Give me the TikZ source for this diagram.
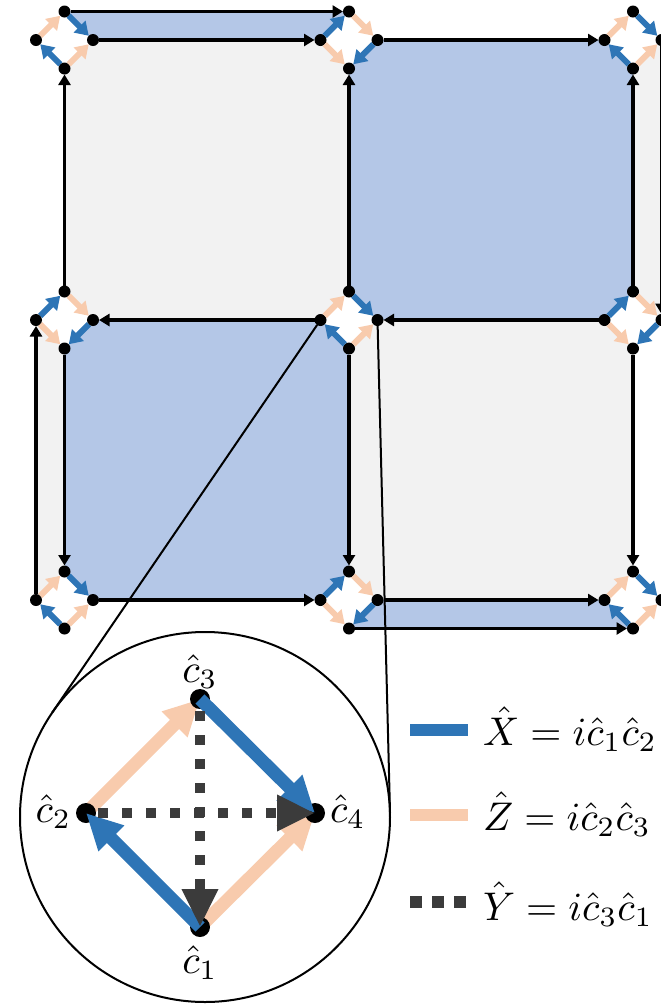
\documentclass[tikz,border=0pt]{standalone}
\usetikzlibrary{arrows.meta}
\definecolor{xblue}{HTML}{2E75B6}
\definecolor{zorange}{HTML}{F8CBAD}
\definecolor{ydark}{HTML}{3B3B3B}
\definecolor{pblue}{HTML}{B4C7E7}
\definecolor{pgray}{HTML}{F2F2F2}
\pgfdeclarelayer{bg}
\pgfsetlayers{bg,main}
\tikzset{
  dot/.style={circle,fill=black,inner sep=0pt,outer sep=0pt,minimum size=12pt},
  bigdot/.style={circle,fill=black,inner sep=0pt,outer sep=0pt,minimum size=20pt},
  bond/.style={draw=black,line width=3.2pt,-{Triangle[length=10.5pt,width=12pt]}},
  xarr/.style={draw=xblue,line width=6pt,-{Triangle[length=13pt,width=16pt]}},
  zarr/.style={draw=zorange,line width=6pt,-{Triangle[length=13pt,width=16pt]}},
  bxarr/.style={draw=xblue,line width=13pt,-{Triangle[length=36pt,width=34pt]}},
  bzarr/.style={draw=zorange,line width=13pt,-{Triangle[length=36pt,width=34pt]}},
  byarr/.style={draw=ydark,line width=10pt,dash pattern=on 10pt off 14pt,dash phase=12pt,-{Triangle[length=38pt,width=34pt]}},
  legx/.style={draw=xblue,line width=12pt},
  legz/.style={draw=zorange,line width=12pt},
  legy/.style={draw=ydark,line width=12pt,dash pattern=on 12pt off 10pt},
  zoomline/.style={draw=black,line width=2pt},
  lbl/.style={inner sep=0pt,outer sep=0pt,font=\normalsize,scale=4.0},
  plqB/.style={fill=pblue},
  plqG/.style={fill=pgray}
}
% site: name, x, y, pattern (0 = standard, 1 = rotated)
\newcommand{\mksite}[4]{%
  \node[dot] (#1T) at (#2,#3-28.5) {};
  \node[dot] (#1L) at (#2-28.5,#3) {};
  \node[dot] (#1R) at (#2+28.5,#3) {};
  \node[dot] (#1B) at (#2,#3+28.5) {};
  \ifnum#4=0
    \draw[zarr] (#1L) -- (#1T);
    \draw[zarr] (#1B) -- (#1R);
    \draw[xarr] (#1B) -- (#1L);
    \draw[xarr] (#1T) -- (#1R);
  \else
    \draw[zarr] (#1T) -- (#1R);
    \draw[zarr] (#1L) -- (#1B);
    \draw[xarr] (#1L) -- (#1T);
    \draw[xarr] (#1R) -- (#1B);
  \fi
}
\begin{document}
\begin{tikzpicture}[x=1pt,y=-1pt]
\useasboundingbox (0,0) rectangle (661,1005);
\clip (0,0) rectangle (661,1005);
% sites
\mksite{TL}{64.5}{40}{0}
\mksite{TM}{349}{40}{1}
\mksite{TR}{633}{40}{0}
\mksite{ML}{64.5}{320}{1}
\mksite{MM}{349}{320}{0}
\mksite{MR}{633}{320}{1}
\mksite{BL}{64.5}{600}{0}
\mksite{BM}{349}{600}{1}
\mksite{BR}{633}{600}{0}
% plaquettes
\begin{pgfonlayer}{bg}
\clip (0,0) rectangle (661,1005);
\fill[plqG] (TLR.center) -- (TML.center) -- (TMB.center) -- (MMT.center) -- (MML.center) -- (MLR.center) -- (MLT.center) -- (TLB.center) -- cycle;
\fill[plqB] (TMR.center) -- (TRL.center) -- (TRB.center) -- (MRT.center) -- (MRL.center) -- (MMR.center) -- (MMT.center) -- (TMB.center) -- cycle;
\fill[plqB] (MLR.center) -- (MML.center) -- (MMB.center) -- (BMT.center) -- (BML.center) -- (BLR.center) -- (BLT.center) -- (MLB.center) -- cycle;
\fill[plqG] (MMR.center) -- (MRL.center) -- (MRB.center) -- (BRT.center) -- (BRL.center) -- (BMR.center) -- (BMT.center) -- (MMB.center) -- cycle;
\fill[plqB] (TLT.center) -- (TMT.center) -- (TML.center) -- (TLR.center) -- cycle;
\fill[plqG] (MLL.center) -- (MLB.center) -- (BLT.center) -- (BLL.center) -- cycle;
\fill[plqG] (TRR.center) -- (MRR.center) -- (MRT.center) -- (TRB.center) -- cycle;
\fill[plqB] (BMR.center) -- (BRL.center) -- (BRB.center) -- (BMB.center) -- cycle;
\end{pgfonlayer}
% bonds
\draw[bond] (TLT) -- (TMT);
\draw[bond] (TLR) -- (TML);
\draw[bond] (TMR) -- (TRL);
\draw[bond] (MLT) -- (TLB);
\draw[bond] (MMT) -- (TMB);
\draw[bond] (MRT) -- (TRB);
\draw[bond] (TRR) -- (MRR);
\draw[bond] (MML) -- (MLR);
\draw[bond] (MRL) -- (MMR);
\draw[bond] (BLL) -- (MLL);
\draw[bond] (MLB) -- (BLT);
\draw[bond] (MMB) -- (BMT);
\draw[bond] (MRB) -- (BRT);
\draw[bond] (BLR) -- (BML);
\draw[bond] (BMR) -- (BRL);
\draw[bond] (BMB) -- (BRB);
% magnifier
\node[draw=black,line width=2pt,circle,inner sep=0pt,outer sep=0pt,minimum size=370pt] (lens) at (205,817) {};
\coordinate (tanL) at (52.2,712.6);
\coordinate (tanR) at (390.0,812.3);
\draw[zoomline] (MML) -- (tanL);
\draw[zoomline] (MMR) -- (tanR);
% inset
\coordinate (p1) at (200,927);
\coordinate (p2) at (86,813);
\coordinate (p3) at (200,699);
\coordinate (p4) at (315,813);
\draw[bzarr] (p2) -- (p3);
\draw[bzarr] (p1) -- (p4);
\node[bigdot] (c1) at (p1) {};
\node[bigdot] (c2) at (p2) {};
\node[bigdot] (c3) at (p3) {};
\node[bigdot] (c4) at (p4) {};
\draw[bxarr] (c1.center) -- (c2.center);
\draw[bxarr] (c3.center) -- (c4.center);
\draw[byarr] (c3.center) -- (c1.center);
\draw[byarr] (c2.center) -- (c4.center);
\node[lbl,anchor=base] (l3) at (200,682) {$\hat c_3$};
\node[lbl,anchor=base] (l1) at (200,973) {$\hat c_1$};
\node[lbl,anchor=base east] (l2) at (71,822) {$\hat c_2$};
\node[lbl,anchor=base west] (l4) at (330,822) {$\hat c_4$};
% legend
\coordinate (lx1) at (410,730); \coordinate (lx2) at (468,730);
\coordinate (lz1) at (410,815); \coordinate (lz2) at (468,815);
\coordinate (ly1) at (410,902); \coordinate (ly2) at (468,902);
\draw[legx] (lx1) -- (lx2);
\draw[legz] (lz1) -- (lz2);
\draw[legy] (ly1) -- (ly2);
\node[lbl,anchor=base west] (tx) at (483,745) {$\hat X = i\hat c_1\hat c_2$};
\node[lbl,anchor=base west] (tz) at (483,830) {$\hat Z = i\hat c_2\hat c_3$};
\node[lbl,anchor=base west] (ty) at (483,920) {$\hat Y = i\hat c_3\hat c_1$};
\end{tikzpicture}
\end{document}
